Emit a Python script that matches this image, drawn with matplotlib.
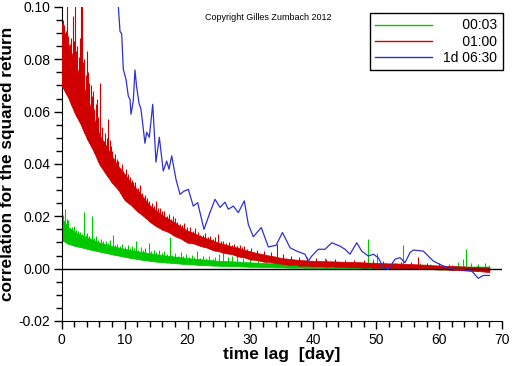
import numpy as np
import matplotlib
matplotlib.use("Agg")
import matplotlib.pyplot as plt
from matplotlib.lines import Line2D
from matplotlib.ticker import MultipleLocator, FormatStrFormatter

plt.rcParams['font.family'] = ['Liberation Sans', 'DejaVu Sans']

GREEN, RED, BLUE = '#00c800', '#d00000', '#3030cc'

# daily envelope of the noisy correlation bands, values in units of 1e-4
days = np.arange(0, 69)
red_lo = [700, 655, 598, 552, 497, 452, 398, 362, 328, 301,
          262, 243, 219, 201, 179, 162, 149, 139, 124, 114,
          99, 96, 87, 81, 71, 66, 59, 56, 47, 43,
          35, 33, 27, 26, 21, 19, 15, 15, 11, 12,
          9, 10, 8, 9, 7, 8, 6, 6, 4, 5,
          3, 4, 2, 3, 1, 2, 0, 0, -1, -2,
          -3, -3, -5, -5, -7, -8, -9, -11, -13]
red_hi = [915, 862, 795, 728, 660, 585, 512, 472, 430, 392,
          362, 330, 302, 272, 242, 222, 205, 190, 176, 160,
          145, 136, 125, 116, 108, 98, 92, 85, 80, 72,
          66, 60, 55, 50, 46, 40, 38, 35, 33, 31,
          30, 29, 28, 28, 27, 26, 26, 25, 24, 23,
          22, 21, 20, 20, 19, 18, 17, 16, 15, 13,
          12, 11, 10, 9, 8, 7, 6, 5, 4]
green_lo = [110, 95, 88, 82, 76, 70, 65, 60, 55, 50,
            45, 41, 37, 33, 30, 27, 25, 23, 21, 19,
            17, 16, 14, 13, 12, 11, 10, 9, 9, 8,
            7, 7, 6, 6, 5, 5, 4, 4, 4, 3,
            3, 3, 2, 2, 2, 1, 1, 1, 0, 0,
            0, 0, -1, -1, -1, -1, -2, -2, -2, -2,
            -3, -3, -3, -3, -3, -4, -4, -4, -4]
green_hi = [195, 160, 142, 130, 120, 110, 100, 93, 87, 81,
            76, 71, 67, 63, 59, 55, 52, 49, 46, 43,
            40, 38, 36, 34, 32, 30, 29, 28, 27, 25,
            24, 23, 22, 21, 20, 20, 19, 18, 18, 17,
            16, 16, 15, 15, 14, 14, 14, 13, 13, 12,
            12, 12, 11, 11, 11, 10, 10, 10, 10, 9,
            9, 9, 9, 9, 8, 8, 8, 8, 8]

# spikes sticking out of the bands (day, peak value)
red_spike_day = [0.1, 0.25, 0.4, 0.55, 0.7, 0.84, 1.0, 1.3, 1.5, 1.75, 1.9, 2.1,
                 2.3, 2.5, 2.7, 2.9, 3.05, 3.25, 3.4, 3.6, 3.8, 4.0, 4.2, 4.4,
                 4.6, 4.8, 5.0, 5.2, 5.4, 5.6, 5.8, 6.1, 6.4, 6.7, 6.9, 7.2,
                 7.4, 7.6, 7.9, 8.0, 8.2, 8.5, 8.8, 9.0, 9.3, 9.6, 9.8, 10.2,
                 10.5, 10.8, 11.1, 11.3, 11.6, 11.9, 12.1, 12.4, 12.8, 13.0, 13.3,
                 13.6, 13.9, 14.3, 14.6, 15.0, 15.3, 15.6, 16.0, 16.3, 16.7, 17.0,
                 17.3, 17.7, 18.0, 18.4, 18.8, 19.1, 19.5, 19.9, 20.4, 20.8, 21.2,
                 21.6, 22.0, 22.4, 22.8, 23.2, 23.6, 24.0, 24.4, 24.9, 25.3, 25.7,
                 26.1, 26.6, 27.0, 27.4, 27.8, 28.3, 28.7, 29.0, 29.5, 30.1, 31.0,
                 32.2, 33.3, 34.2, 35.2, 36.5, 37.8, 39.0, 40.5, 42.0, 43.5, 45.0,
                 46.5, 48.0, 49.5, 51.0, 52.5, 54.0, 55.5, 56.6, 58.0, 60.0, 62.0,
                 64.0, 66.0, 67.5]
red_spike_top = [0.094, 0.095, 0.093, 0.090, 0.091, 0.104, 0.089, 0.086, 0.088, 0.0966,
                 0.087, 0.104, 0.083, 0.085, 0.081, 0.088, 0.104, 0.104, 0.079, 0.080,
                 0.074, 0.083, 0.075, 0.071, 0.070, 0.066, 0.068, 0.061, 0.063, 0.065,
                 0.058, 0.071, 0.054, 0.0488, 0.052, 0.050, 0.057, 0.049, 0.047, 0.045,
                 0.040, 0.044, 0.042, 0.041, 0.036, 0.040, 0.0373, 0.038, 0.036, 0.035,
                 0.034, 0.033, 0.033, 0.029, 0.031, 0.032, 0.029, 0.0265, 0.028, 0.027,
                 0.026, 0.025, 0.024, 0.026, 0.023, 0.023, 0.022, 0.022, 0.020, 0.021,
                 0.019, 0.020, 0.0195, 0.018, 0.017, 0.0165, 0.0175, 0.016, 0.016, 0.0145,
                 0.0155, 0.014, 0.013, 0.013, 0.0135, 0.012, 0.0125, 0.0115, 0.012, 0.0131,
                 0.0105, 0.0105, 0.0098, 0.010, 0.0092, 0.0095, 0.0088, 0.009, 0.0082,
                 0.0085, 0.0076, 0.008, 0.0072, 0.0068, 0.0065, 0.0093, 0.0055, 0.005,
                 0.0045, 0.0045, 0.004, 0.0038, 0.0037, 0.0034, 0.0032, 0.0033, 0.003,
                 0.0028, 0.0026, 0.0024, 0.0025, 0.0046, 0.002, 0.0017, 0.0015, 0.0012,
                 0.001, 0.0008]
green_spike_day = [0.2, 0.5, 0.8, 1.0, 1.3, 1.6, 2.0, 2.3, 2.6, 2.9, 3.2, 3.5, 3.8,
                   4.1, 4.4, 4.8, 5.1, 5.5, 5.8, 6.3, 6.6, 7.0, 7.3, 7.6, 8.2, 8.5,
                   8.8, 9.2, 9.6, 10.0, 10.5, 10.8, 11.2, 11.5, 11.8, 12.2, 12.6, 13.0,
                   13.3, 13.8, 14.2, 14.6, 15.0, 15.5, 15.9, 16.3, 16.8, 17.2, 17.6,
                   18.0, 18.5, 18.9, 19.3, 19.8, 20.2, 20.7, 21.0, 21.5, 22.0, 22.5,
                   23.0, 23.4, 24.0, 24.3, 25.0, 25.7, 26.5, 27.1, 27.8, 28.8, 30.0,
                   31.2, 32.5, 34.0, 35.5, 37.0, 38.5, 40.0, 41.8, 43.5, 45.0, 46.5,
                   48.0, 48.7, 49.5, 50.2, 51.5, 53.0, 54.3, 55.5, 57.0, 58.5, 60.0,
                   61.5, 63.0, 63.8, 64.3, 65.0, 66.2, 67.3, 68.0]
green_spike_top = [0.0205, 0.0227, 0.019, 0.0185, 0.015, 0.016, 0.0163, 0.0148, 0.0145,
                   0.014, 0.0131, 0.0215, 0.013, 0.0135, 0.0125, 0.020, 0.0118, 0.0125,
                   0.011, 0.0115, 0.0105, 0.0105, 0.0098, 0.011, 0.013, 0.0092, 0.0093,
                   0.0088, 0.0095, 0.0083, 0.009, 0.008, 0.0085, 0.0078, 0.0106, 0.0073,
                   0.0082, 0.007, 0.008, 0.0099, 0.0066, 0.0072, 0.0063, 0.007, 0.006,
                   0.0068, 0.0056, 0.0122, 0.0054, 0.006, 0.005, 0.0062, 0.0048, 0.0055,
                   0.0045, 0.0052, 0.0043, 0.0067, 0.0041, 0.0048, 0.004, 0.0047, 0.0038,
                   0.0045, 0.0055, 0.0102, 0.0045, 0.005, 0.0086, 0.004, 0.0042, 0.0038,
                   0.0035, 0.0033, 0.0032, 0.003, 0.0028, 0.0028, 0.0042, 0.0025, 0.0024,
                   0.0022, 0.0025, 0.0112, 0.0035, 0.006, 0.002, 0.0022, 0.0089, 0.002,
                   0.0022, 0.0018, 0.0022, 0.0018, 0.0025, 0.0035, 0.0074, 0.002, 0.0018,
                   0.0022, 0.0015]

# 1d 06:30 series, smoother
blue_day = [8.8, 9.0, 9.27, 9.54, 9.79, 10.22, 10.59, 10.86, 11.02, 11.38, 11.65, 11.9,
            12.29, 12.6, 13.24, 13.51, 13.93, 14.47, 14.99, 15.52, 16.15, 16.69, 17.06,
            17.49, 18.17, 18.81, 19.44, 20.13, 20.92, 21.62, 22.62, 23.58, 24.37, 25.17,
            25.96, 26.49, 27.28, 28.08, 29.03, 29.67, 30.46, 31.73, 32.85, 34.07, 35.1,
            36.3, 37.36, 38.68, 39.2, 39.75, 40.8, 41.86, 42.93, 44.24, 45.04, 45.83,
            46.9, 47.7, 48.74, 49.54, 50.33, 51.13, 51.92, 52.99, 53.78, 54.58, 55.37,
            55.9, 57.49, 58.28, 59.08, 60.67, 62.26, 63.59, 65.18, 66.23, 67.03, 67.98]
blue_val = [0.106, 0.1004, 0.0907, 0.0896, 0.0762, 0.0724, 0.0659, 0.0647, 0.059, 0.0641,
            0.0759, 0.0697, 0.0632, 0.061, 0.0479, 0.0521, 0.0502, 0.0628, 0.0407, 0.0502,
            0.0373, 0.0411, 0.038, 0.0431, 0.0341, 0.0284, 0.0296, 0.0303, 0.0239, 0.0252,
            0.015, 0.0215, 0.0265, 0.0234, 0.0254, 0.0227, 0.0239, 0.0214, 0.0259, 0.0169,
            0.0122, 0.0157, 0.0083, 0.0089, 0.0138, 0.008, 0.0067, 0.0055, 0.0029, 0.0048,
            0.0074, 0.0074, 0.0099, 0.0086, 0.0074, 0.0055, 0.0099, 0.0067, 0.0048, 0.0055,
            0.0042, 0.0004, -0.0003, 0.0036, 0.0042, 0.0023, 0.0061, 0.0071, 0.0067, 0.0048,
            0.0029, 0.001, -0.0003, -0.0003, -0.0009, -0.0037, -0.0026, -0.0026]

labels = ['00:03', '01:00', '1d 06:30']

red_lo = np.array(red_lo) * 1e-4
red_hi = np.array(red_hi) * 1e-4
green_lo = np.array(green_lo) * 1e-4
green_hi = np.array(green_hi) * 1e-4

fig = plt.figure(figsize=(5.12, 3.66), dpi=100)
ax = fig.add_axes([0.1205, 0.123, 0.86, 0.858])

ax.fill_between(days, green_lo, green_hi, color=GREEN, lw=0.5, zorder=2)
ax.vlines(green_spike_day, np.interp(green_spike_day, days, green_lo), green_spike_top,
          color=GREEN, lw=0.8, zorder=2)
ax.fill_between(days, red_lo, red_hi, color=RED, lw=0.5, zorder=3)
ax.vlines(red_spike_day, np.interp(red_spike_day, days, red_lo), red_spike_top,
          color=RED, lw=0.8, zorder=3)
ax.axhline(0, color='k', lw=1, zorder=3.5)
ax.plot(blue_day, blue_val, color=BLUE, lw=0.9, zorder=4)

ax.set_xlim(0, 70)
ax.set_ylim(-0.02, 0.10)
ax.xaxis.set_major_locator(MultipleLocator(10))
ax.xaxis.set_minor_locator(MultipleLocator(2))
ax.yaxis.set_major_locator(MultipleLocator(0.02))
ax.yaxis.set_minor_locator(MultipleLocator(0.005))
ax.yaxis.set_major_formatter(FormatStrFormatter('%.2f'))
ax.spines['top'].set_visible(False)
ax.spines['right'].set_visible(False)
ax.tick_params(which='major', direction='out', length=6, width=1, labelsize=10)
ax.tick_params(which='minor', direction='out', length=4, width=1)
ax.tick_params(axis='y', which='major', pad=2)
ax.tick_params(axis='x', which='major', pad=3)

ax.set_xlabel('time lag  [day]', fontsize=12.5, fontweight='bold', labelpad=0)
ax.set_ylabel('correlation for the squared return', fontsize=12.4, fontweight='bold', labelpad=3)

ax.text(0.326, 0.968, 'Copyright Gilles Zumbach 2012', transform=ax.transAxes,
        fontsize=6.5, va='center', ha='left')

handles = [Line2D([], [], color=c, lw=1) for c in (GREEN, RED, BLUE)]
longest = max(len(s) for s in labels)
shown = [s if len(s) == longest else '\u2007\u2007 ' + s for s in labels]
leg = ax.legend(handles, shown, loc='upper right', bbox_to_anchor=(1.002, 0.981),
                borderaxespad=0, fancybox=False, edgecolor='k', framealpha=1,
                fontsize=10, handlelength=4.1, handletextpad=0.8, borderpad=0.4,
                labelspacing=0.15)
leg.get_frame().set_linewidth(1.0)

fig.savefig('out.png', dpi=100)
